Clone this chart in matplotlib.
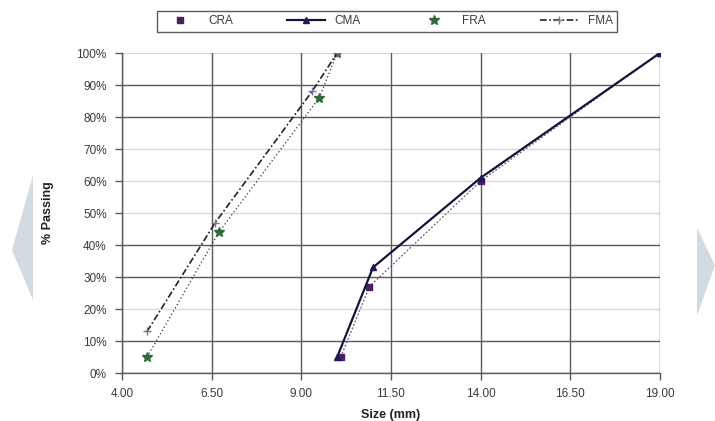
import matplotlib.pyplot as plt
from matplotlib.patches import Polygon

plt.rcParams['font.family'] = ['Liberation Sans', 'DejaVu Sans']

# ---- data (size in mm, % passing) ----
cra_size = [10.1, 10.9, 14.0, 19.0]
cra_pass = [5, 27, 60, 100]

cma_size = [10.0, 11.0, 14.0, 19.0]
cma_pass = [5, 33, 61, 100]

fra_size = [4.7, 6.7, 9.5, 10.0]
fra_pass = [5, 44, 86, 100]

fma_size = [4.7, 6.6, 9.3, 10.0]
fma_pass = [13, 47, 88, 100]

x_ticks = [4.0, 6.5, 9.0, 11.5, 14.0, 16.5, 19.0]
y_ticks = list(range(0, 101, 10))
faint_rows = [20, 50, 60, 70, 100]   # gridlines that are washed out in the original

fig = plt.figure(figsize=(7.15, 4.21), dpi=100)
ax = fig.add_axes([0.1706, 0.114, 0.7524, 0.760])

# grid
for v in y_ticks:
    c = '#d8d8d8' if v in faint_rows else '#5a5a5a'
    ax.axhline(v, color=c, lw=1.0, zorder=0)
for v in x_ticks:
    ax.axvline(v, color='#5a5a5a', lw=1.0, zorder=0)

# coarse aggregates
ax.plot(cra_size, cra_pass, ls=(0, (1.5, 1.5)), color='#6b5a7a', lw=0.9, zorder=2)
ax.plot(cra_size, cra_pass, ls='none', marker='s', ms=5, color='#4a1f63',
        label='CRA', zorder=3)
ax.plot(cma_size, cma_pass, ls='-', color='#14143a', lw=1.6, marker='^', ms=5,
        mfc='#1c1c5a', mec='#1c1c5a', label='CMA', zorder=3)

# fine aggregates
ax.plot(fra_size, fra_pass, ls=(0, (1, 2)), color='#333333', lw=0.9, zorder=2)
ax.plot(fra_size, fra_pass, ls='none', marker='*', ms=7, color='#2f6b3a',
        label='FRA', zorder=3)
ax.plot(fma_size, fma_pass, ls=(0, (4, 1.5, 1, 1.5)), color='#222222', lw=1.2,
        marker='+', ms=6, mec='#8a6a9a', mew=1.0, label='FMA', zorder=3)

ax.set_xlim(4, 19)
ax.set_ylim(0, 100)
ax.set_xticks(x_ticks)
ax.set_xticklabels([f'{v:.2f}' for v in x_ticks])
ax.set_yticks(y_ticks)
ax.set_yticklabels([f'{v}%' for v in y_ticks])
ax.tick_params(direction='out', length=5, width=1, color='#5a5a5a',
               labelsize=8.5, labelcolor='#3a3a3a', pad=6)

for s in ['top', 'right']:
    ax.spines[s].set_visible(False)
for s in ['left', 'bottom']:
    ax.spines[s].set_color('#5a5a5a')
    ax.spines[s].set_linewidth(1.0)

ax.set_ylabel('% Passing', fontsize=9, fontweight='bold', color='#222222', labelpad=16)
ax.set_xlabel('Size (mm)', fontsize=9, fontweight='bold', color='#222222', labelpad=6)

leg = fig.legend(loc='center', bbox_to_anchor=(0.541, 0.949), ncol=4,
                 fontsize=8.5, frameon=True, fancybox=False, edgecolor='#333333',
                 handlelength=3.2, columnspacing=4.6, borderpad=0.35,
                 handletextpad=0.8)
leg.get_frame().set_linewidth(1.0)
for t in leg.get_texts():
    t.set_color('#3a3a3a')

# pale arrow shapes at the page edges
W, H = 715, 421
left_tri = [(33 / W, 1 - 175 / H), (33 / W, 1 - 300 / H), (12 / W, 1 - 250 / H)]
right_tri = [(697 / W, 1 - 228 / H), (697 / W, 1 - 316 / H), (715 / W, 1 - 265 / H)]
for pts in (left_tri, right_tri):
    fig.patches.append(Polygon(pts, closed=True, transform=fig.transFigure,
                               facecolor='#d3dbe1', edgecolor='none', zorder=0))

fig.savefig('out.png', dpi=100)
